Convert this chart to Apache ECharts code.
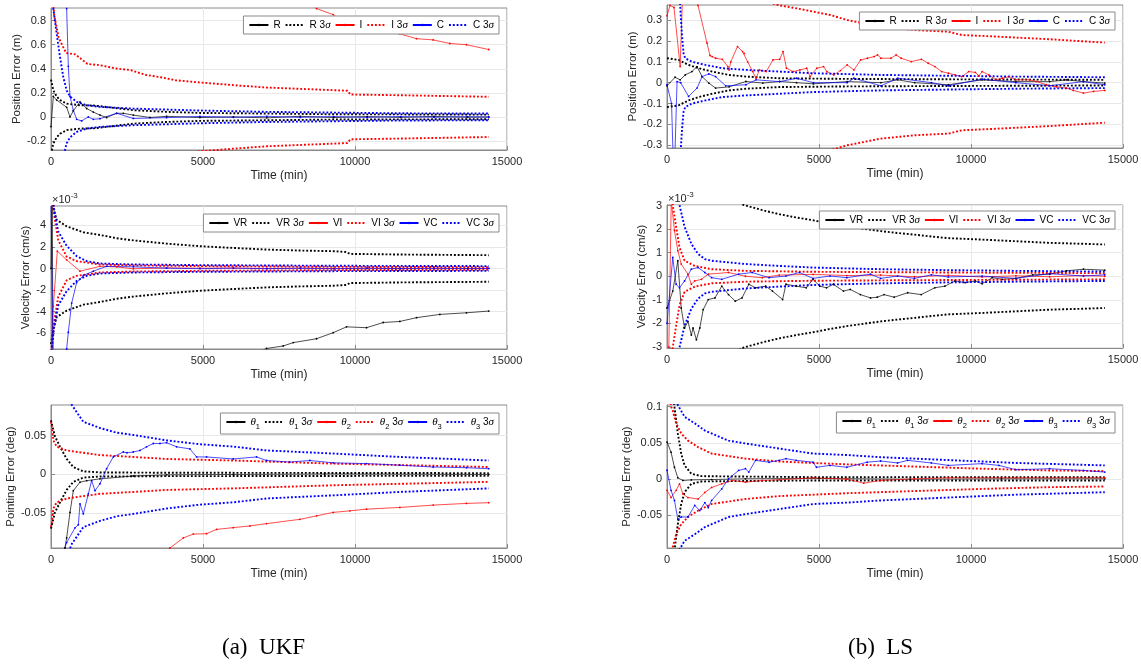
<!DOCTYPE html>
<html><head><meta charset="utf-8">
<script src="https://cdn.jsdelivr.net/npm/echarts@6/dist/echarts.min.js"></script>
<style>html,body{margin:0;padding:0;background:#fff}#c{width:1141px;height:664px}</style>
</head><body><div id="c"></div><script>
// ---------- tick labels ----------
const xTicks = [0, 5000, 10000, 15000];
const ticksUkfPos = [-0.2, 0, 0.2, 0.4, 0.6, 0.8];
const ticksLsPos = [-0.3, -0.2, -0.1, 0, 0.1, 0.2, 0.3];
const ticksUkfVel = [-6, -4, -2, 0, 2, 4];
const ticksLsVel = [-3, -2, -1, 0, 1, 2, 3];
const ticksUkfPt = [-0.05, 0, 0.05];
const ticksLsPt = [-0.05, 0, 0.05, 0.1];

const namesPos = ['R', 'R 3σ', 'I', 'I 3σ', 'C', 'C 3σ'];
const namesVel = ['VR', 'VR 3σ', 'VI', 'VI 3σ', 'VC', 'VC 3σ'];
const namesPt = ['θ1', 'θ1 3σ', 'θ2', 'θ2 3σ', 'θ3', 'θ3 3σ'];

// ---------- (a) UKF position (m) ----------
const ukfPosR = [[0,-0.08],[77,0.17],[186,0.14],[515,0.08],[625,0],[734,0.05],[953,0.125],[1173,0.07],[1392,0.04],[1611,0.015],[1830,-0.005],[2159,0.03],[2378,0.03],[2707,0.015],[3255,-0.005],[3803,0.005],[4899,-0.005],[6000,0.0],[7100,-0.008],[8200,0.005],[9300,-0.005],[10400,0.003],[11500,-0.004],[12600,0.004],[13700,-0.003],[14400,0.0]];
const ukfPosR3s = [[0,0.31],[77,0.22],[186,0.17],[296,0.14],[515,0.11],[953,0.097],[1392,0.095],[1611,0.089],[2707,0.056],[3803,0.042],[4899,0.033],[7091,0.028],[9283,0.022],[14400,0.019]];
const ukfPosI = [[0,6],[4000,2],[7000,1.2],[8735,0.9],[9283,0.85],[9831,0.76],[10379,0.74],[10927,0.70],[11475,0.69],[12023,0.65],[12571,0.64],[13119,0.61],[13667,0.60],[14400,0.56]];
const ukfPosI3s = [[0,1.3],[100,0.85],[250,0.66],[400,0.58],[500,0.53],[800,0.52],[950,0.49],[1200,0.44],[1600,0.43],[2200,0.40],[2600,0.39],[3100,0.35],[3600,0.33],[4100,0.305],[4900,0.286],[6000,0.264],[7100,0.244],[8200,0.233],[9300,0.222],[9750,0.217],[9850,0.186],[11500,0.18],[12600,0.175],[14400,0.167]];
const ukfPosC = [[0,2.5],[400,1.2],[515,0.9],[570,0.42],[625,0.17],[734,0.055],[844,-0.02],[1008,-0.033],[1228,0],[1392,-0.02],[1611,-0.015],[2159,0.03],[2707,-0.013],[3803,-0.006],[4900,0.004],[6000,-0.003],[7100,0.005],[8200,-0.004],[9300,0.003],[10400,-0.004],[11500,0.003],[12600,-0.003],[13700,0.002],[14400,-0.002]];
const ukfPosC3s = [[0,1.6],[77,0.9],[186,0.69],[296,0.5],[405,0.33],[515,0.22],[625,0.17],[844,0.125],[1173,0.097],[1611,0.083],[2707,0.069],[3803,0.061],[4899,0.053],[7091,0.042],[9283,0.036],[11475,0.03],[14400,0.028]];

// ---------- (b) LS position (m) ----------
const lsPosR = [[0,-0.015],[266,0.026],[433,0.0135],[599,0.037],[821,0.053],[988,0.077],[1154,0.029],[1376,-0.002],[1598,-0.026],[2042,-0.02],[2597,0.0056],[3152,-0.002],[3707,0.0056],[4262,0.0],[4817,-0.0056],[5927,0.005],[7037,0.0],[7592,0.0135],[8147,0.0],[9257,-0.01],[10367,0.0135],[11477,0.005],[12587,0.005],[13142,0.0135],[13697,0.005],[14400,-0.002]];
const lsPosR3s = [[0,0.117],[377,0.109],[710,0.085],[1043,0.069],[1487,0.053],[2042,0.037],[2597,0.029],[3707,0.021],[5927,0.018],[9257,0.016],[14400,0.0135]];
const lsPosI = [[0,0.32],[99,0.37],[230,0.36],[433,0.077],[520,0.45],[800,0.6],[1020,0.37],[1315,0.19],[1414,0.13],[1487,0.125],[1598,0.117],[1820,0.112],[2000,0.077],[2043,0.061],[2098,0.1],[2320,0.173],[2486,0.149],[2542,0.14],[2653,0.10],[2820,0.053],[2930,0.021],[3041,0.061],[3263,0.053],[3485,0.109],[3707,0.112],[3818,0.149],[3929,0.069],[4151,0.053],[4373,0.061],[4595,0.069],[4706,0.029],[4928,0.069],[5150,0.077],[5261,0.053],[5483,0.037],[5705,0.058],[5927,0.085],[6149,0.061],[6371,0.109],[6593,0.117],[6815,0.125],[6926,0.133],[7037,0.117],[7370,0.117],[7537,0.133],[7703,0.117],[8036,0.101],[8369,0.112],[8591,0.093],[8813,0.077],[9035,0.053],[9257,0.045],[9479,0.037],[9701,0.029],[9923,0.053],[10145,0.049],[10256,0.033],[10367,0.053],[10589,0.037],[10811,0.0135],[11033,0.021],[11255,0.029],[11477,0.0135],[11921,0.0135],[12143,0.006],[12476,-0.01],[12809,-0.02],[13142,-0.026],[13364,-0.037],[13697,-0.05],[14030,-0.042],[14400,-0.037]];
const lsPosI3s = [[0,1.5],[1000,0.7],[2000,0.5],[3000,0.4],[3707,0.37],[4262,0.356],[4817,0.34],[5372,0.324],[5927,0.30],[6482,0.284],[7037,0.268],[8147,0.252],[9257,0.244],[9701,0.228],[10367,0.224],[11477,0.216],[12587,0.208],[13697,0.198],[14400,0.192]];
const lsPosC = [[0,-0.01],[150,-0.1],[230,-0.5],[330,0.005],[450,0.0],[710,-0.066],[988,-0.026],[1154,0.029],[1376,0.042],[1598,0.029],[1931,-0.015],[2597,-0.01],[2930,0.0135],[3707,0.005],[4262,0.021],[4817,0.0],[5927,0.0],[6149,0.021],[7037,-0.015],[7592,0.021],[8700,0.0],[9257,-0.015],[10367,0.017],[11477,0.0],[12587,-0.015],[13697,0.005],[14400,-0.01]];
const lsPosC3s = [[0,2],[300,0.8],[433,0.37],[488,0.236],[544,0.14],[599,0.117],[821,0.1],[1265,0.085],[1820,0.069],[2597,0.061],[3707,0.053],[4817,0.045],[7037,0.037],[9257,0.033],[11477,0.029],[14400,0.026]];

// ---------- (a) UKF velocity (x1e-3 cm/s) ----------
const ukfVelR = [[0,0],[40,8],[80,-20],[2000,-14],[5000,-10],[7091,-7.4],[7639,-7.17],[7968,-6.86],[8735,-6.5],[9283,-5.94],[9722,-5.4],[10379,-5.48],[10927,-5.0],[11475,-4.9],[12023,-4.55],[12790,-4.25],[13667,-4.1],[14400,-3.94]];
const ukfVelR3s = [[0,7],[77,5.6],[186,4.5],[515,3.9],[1063,3.35],[1611,3.1],[2159,2.8],[2707,2.6],[3803,2.3],[4899,2.06],[5995,1.9],[7091,1.75],[8187,1.66],[9283,1.6],[9722,1.52],[9831,1.35],[11475,1.29],[14400,1.23]];
const ukfVelI = [[0,-8],[77,-3.5],[208,1.6],[515,0.8],[953,-0.25],[1611,0.2],[2159,0.15],[2707,-0.03],[3803,0.05],[4899,0.03],[6000,0.04],[7100,0.0],[8200,0.03],[9300,0.0],[10400,0.02],[11500,0.0],[12600,0.02],[13700,0.0],[14400,0.01]];
const ukfVelI3s = [[0,8],[100,5],[240,2.6],[515,1.1],[844,0.68],[1611,0.37],[2707,0.28],[4899,0.22],[9283,0.15],[14400,0.12]];
const ukfVelC = [[0,6],[100,-15],[400,-9],[515,-7.45],[570,-5.9],[680,-3.2],[844,-1.3],[1063,-0.65],[1392,-0.25],[1830,0.2],[2707,0.15],[3803,0.03],[4899,-0.02],[6000,0.03],[7100,-0.02],[8200,0.02],[9300,-0.02],[10400,0.02],[11500,-0.01],[12600,0.01],[13700,-0.01],[14400,0.0]];
const ukfVelC3s = [[0,8],[100,5.5],[240,3.4],[515,2.1],[844,1.14],[1173,0.68],[1611,0.46],[2707,0.37],[4899,0.31],[9283,0.25],[14400,0.22]];

// ---------- (b) LS velocity (x1e-3 cm/s) ----------
const lsVelR = [[0,-1.35],[190,-0.63],[356,0.66],[467,-1.35],[578,-2.2],[689,-1.92],[800,-2.5],[856,-2.2],[967,-2.7],[1079,-2.2],[1190,-1.42],[1357,-0.99],[1579,-0.92],[1801,-0.42],[2024,-0.78],[2246,-1.06],[2469,-0.92],[2691,-0.34],[2913,-0.49],[3247,-0.42],[3469,-0.63],[3803,-0.99],[3914,-0.34],[4248,-0.42],[4582,-0.49],[4804,-0.13],[5026,-0.42],[5249,-0.49],[5471,-0.34],[5805,-0.63],[6027,-0.56],[6361,-0.78],[6694,-0.92],[6917,-0.89],[7139,-0.78],[7473,-0.89],[7917,-0.7],[8362,-0.78],[8807,-0.49],[9141,-0.42],[9474,-0.2],[9808,-0.27],[10141,-0.2],[10364,-0.32],[10697,-0.06],[11031,-0.13],[11476,-0.09],[12032,0.06],[12588,0.09],[13144,0.23],[13700,0.3],[14400,0.26]];
const lsVelR3s = [[0,8],[1000,4.5],[2000,3.4],[2524,3.03],[3136,2.81],[3692,2.64],[4248,2.5],[4804,2.38],[5360,2.24],[5916,2.12],[6472,2.02],[7028,1.92],[7584,1.84],[8140,1.77],[8696,1.69],[9252,1.62],[9808,1.59],[10364,1.56],[11476,1.49],[12588,1.42],[13700,1.38],[14400,1.35]];
const lsVelI = [[0,-5],[60,-3],[140,3.2],[245,1.95],[356,1.09],[467,0.52],[689,0.09],[800,-0.34],[912,-0.2],[1134,-0.13],[1357,0.09],[2024,0.16],[2580,0.0],[3136,-0.06],[3692,0.05],[4804,0.08],[5916,0.03],[7028,0.05],[8140,-0.02],[9252,0.04],[10364,-0.03],[11476,0.02],[12588,-0.02],[13700,0.03],[14400,0.0]];
const lsVelI3s = [[0,6],[189,3.03],[300,2.1],[411,1.23],[578,0.66],[912,0.44],[1468,0.3],[2580,0.23],[4804,0.19],[9252,0.16],[14400,0.13]];
const lsVelC = [[0,-2],[189,0.8],[300,-0.34],[411,-0.49],[578,-0.2],[800,0.3],[1023,0.37],[1245,0.16],[1468,-0.06],[1801,-0.13],[2357,0.09],[2802,0.16],[3358,-0.06],[3914,0.01],[4359,0.16],[4804,-0.09],[5360,0.01],[5916,-0.06],[6694,0.09],[7028,-0.09],[7584,0.01],[8140,-0.09],[8696,0.06],[9252,-0.03],[10364,0.01],[11476,-0.09],[12588,0.11],[13700,0.01],[14400,0.06]];
const lsVelC3s = [[0,8],[200,5],[411,3.03],[578,2.1],[800,1.38],[1023,0.95],[1245,0.73],[1468,0.66],[2580,0.52],[3692,0.44],[4804,0.37],[7028,0.3],[9252,0.26],[11476,0.23],[14400,0.2]];

// ---------- (a) UKF pointing (deg) ----------
const ukfPt1 = [[0,-0.2],[460,-0.095],[515,-0.082],[625,-0.049],[734,-0.021],[953,-0.01],[1173,-0.008],[1611,-0.0057],[2707,-0.002],[3803,-0.0005],[6000,0.0],[9000,0.0005],[14400,0.0]];
const ukfPt1s = [[0,0.07],[22,0.066],[131,0.049],[296,0.036],[515,0.02],[734,0.0096],[1063,0.004],[1611,0.0026],[3803,0.0022],[14400,0.0017]];
const ukfPt2 = [[0,-0.3],[2000,-0.15],[3913,-0.095],[4351,-0.082],[4680,-0.077],[5118,-0.0765],[5447,-0.071],[5995,-0.0687],[6543,-0.0665],[7091,-0.0635],[8187,-0.058],[8735,-0.0535],[9283,-0.049],[9831,-0.047],[10379,-0.0448],[11475,-0.0426],[12571,-0.0396],[13667,-0.0374],[14400,-0.0365]];
const ukfPt2s = [[0,0.068],[22,0.064],[77,0.044],[186,0.036],[515,0.031],[1611,0.025],[2707,0.0226],[3803,0.02],[5995,0.018],[9283,0.014],[14400,0.0096]];
const ukfPt3 = [[0,-0.3],[405,-0.1],[515,-0.088],[789,-0.069],[900,-0.065],[953,-0.038],[1063,-0.051],[1228,-0.025],[1337,-0.008],[1447,-0.021],[1611,-0.012],[1830,0.0074],[2049,0.0226],[2378,0.029],[2500,0.028],[2707,0.029],[2926,0.031],[3145,0.0357],[3365,0.04],[3584,0.04],[3803,0.041],[4132,0.0357],[4570,0.033],[4789,0.0226],[5118,0.0226],[5995,0.02],[6762,0.0226],[7091,0.018],[7858,0.016],[8516,0.018],[9283,0.015],[10379,0.014],[11475,0.012],[12571,0.0096],[13667,0.0087],[14400,0.0074]];
const ukfPt3s = [[0,0.2],[300,0.13],[680,0.09],[1063,0.068],[1611,0.06],[2159,0.054],[2707,0.051],[3803,0.044],[4899,0.039],[5995,0.036],[7091,0.031],[9283,0.027],[11475,0.0226],[14400,0.018]];

// ---------- (b) LS pointing (deg) ----------
const lsPt1 = [[0,0.051],[133,0.037],[245,0.016],[356,0.0014],[523,-0.0023],[800,-0.0015],[1468,-0.001],[2580,0.0],[5000,0.0005],[8000,-0.0005],[11000,0.0],[14400,0.0]];
const lsPt1s = [[0,0.3],[100,0.15],[245,0.1],[356,0.063],[467,0.035],[578,0.0186],[800,0.007],[1134,0.0037],[2024,0.0033],[4804,0.0023],[14400,0.0023]];
const lsPt2 = [[0,-0.016],[133,-0.026],[300,-0.016],[411,-0.007],[523,-0.021],[689,-0.026],[1023,-0.028],[1245,-0.019],[1468,-0.012],[1801,-0.007],[2135,-0.0023],[2580,-0.0047],[3136,-0.0023],[3692,-0.0014],[4804,0.0014],[5916,-0.0005],[6472,-0.006],[7028,-0.0023],[8140,0.0],[9252,0.0014],[11476,0.0014],[14400,0.0014]];
const lsPt2s = [[0,0.2],[133,0.1],[189,0.095],[300,0.077],[467,0.063],[689,0.053],[1023,0.044],[1468,0.035],[2580,0.028],[3692,0.024],[5916,0.02],[8140,0.017],[10364,0.014],[12588,0.0116],[14400,0.0107]];
const lsPt3 = [[0,0.012],[133,-0.016],[245,-0.03],[356,-0.056],[467,-0.053],[689,-0.053],[912,-0.037],[1079,-0.044],[1245,-0.033],[1357,-0.04],[1468,-0.03],[1801,-0.014],[2024,0.0],[2357,0.0116],[2580,0.014],[2691,0.0093],[2913,0.0256],[3358,0.023],[3692,0.0256],[3914,0.028],[4248,0.0256],[4804,0.023],[4915,0.016],[5360,0.0186],[5916,0.016],[6583,0.023],[7028,0.0247],[7584,0.022],[7917,0.0256],[8696,0.022],[9252,0.0186],[10364,0.021],[10920,0.0186],[11476,0.0126],[12588,0.014],[13700,0.0116],[14400,0.0093]];
const lsPt3s = [[0,0.25],[200,0.12],[356,0.1024],[578,0.086],[912,0.077],[1245,0.067],[1468,0.063],[2024,0.053],[2580,0.049],[3692,0.042],[4804,0.035],[5916,0.033],[7028,0.03],[9252,0.026],[11476,0.022],[14400,0.0186]];

// ---------- layout ----------
const panels = [
  {grid:{left:51,top:8,width:456,height:142}, ymin:-0.275, ymax:0.905, ticks:ticksUkfPos, yname:'Position Error (m)', ngap:20, lg:{right:642,top:16}, names:namesPos, data:[ukfPosR,ukfPosR3s,ukfPosI,ukfPosI3s,ukfPosC,ukfPosC3s]},
  {grid:{left:667,top:5,width:456,height:143}, ymin:-0.313, ymax:0.372, ticks:ticksLsPos, yname:'Position Error (m)', ngap:20, lg:{right:26,top:12}, names:namesPos, data:[lsPosR,lsPosR3s,lsPosI,lsPosI3s,lsPosC,lsPosC3s]},
  {grid:{left:51,top:206,width:456,height:143}, ymin:-7.45, ymax:5.78, ticks:ticksUkfVel, yname:'Velocity Error (cm/s)', ngap:12, lg:{right:642,top:214}, names:namesVel, data:[ukfVelR,ukfVelR3s,ukfVelI,ukfVelI3s,ukfVelC,ukfVelC3s]},
  {grid:{left:667,top:205,width:456,height:143}, ymin:-3.05, ymax:3.03, ticks:ticksLsVel, yname:'Velocity Error (cm/s)', ngap:11, lg:{right:26,top:211}, names:namesVel, data:[lsVelR,lsVelR3s,lsVelI,lsVelI3s,lsVelC,lsVelC3s]},
  {grid:{left:51,top:405,width:456,height:143}, ymin:-0.095, ymax:0.0897, ticks:ticksUkfPt, yname:'Pointing Error (deg)', ngap:25, lg:{right:642,top:413}, names:namesPt, data:[ukfPt1,ukfPt1s,ukfPt2,ukfPt2s,ukfPt3,ukfPt3s]},
  {grid:{left:667,top:405,width:456,height:143}, ymin:-0.096, ymax:0.1024, ticks:ticksLsPt, yname:'Pointing Error (deg)', ngap:27, lg:{right:26,top:412}, names:namesPt, data:[lsPt1,lsPt1s,lsPt2,lsPt2s,lsPt3,lsPt3s]}
];

const COLORS = ['#000000', '#ff0000', '#0000ff'];
const AX = '#8a8a8a', TXT = '#262626', FONT = '"Liberation Sans", Arial, sans-serif';

function legendFmt(name) {
  let s = name.replace(/θ(\d)/, '{i|θ}{s|$1}');
  s = s.replace(/σ/g, '{i|σ}');
  return s;
}

const grids = [], xAxes = [], yAxes = [], series = [], legends = [];
panels.forEach((p, i) => {
  grids.push(Object.assign({show:true, borderColor:AX, borderWidth:1, backgroundColor:'#fff', outerBoundsMode:'none', containLabel:false}, p.grid));
  xAxes.push({
    type:'value', gridIndex:i, min:0, max:15000, interval:5000,
    name:'Time (min)', nameLocation:'middle', nameGap:20,
    nameTextStyle:{fontSize:12, color:TXT, fontFamily:FONT},
    axisLine:{show:true, onZero:false, lineStyle:{color:AX, width:1}},
    axisTick:{show:true, inside:true, length:4, lineStyle:{color:AX}},
    axisLabel:{fontSize:11, color:TXT, fontFamily:FONT, margin:6, customValues:xTicks,
      formatter: v => String(v)},
    splitLine:{show:true, lineStyle:{color:'#e8e8e8', width:1}}
  });
  yAxes.push({
    type:'value', gridIndex:i, min:p.ymin, max:p.ymax,
    name:p.yname, nameLocation:'middle', nameGap:p.ngap,
    nameTextStyle:{fontSize:11.5, color:TXT, fontFamily:FONT},
    axisLine:{show:true, onZero:false, lineStyle:{color:AX, width:1}},
    axisTick:{show:true, inside:true, length:4, lineStyle:{color:AX}, customValues:p.ticks},
    axisLabel:{fontSize:11, color:TXT, fontFamily:FONT, margin:5, customValues:p.ticks,
      formatter: v => String(Math.round(v * 1000) / 1000)},
    splitLine:{show:true, lineStyle:{color:'#e8e8e8', width:1}}
  });
  for (let k = 0; k < 3; k++) {
    const c = COLORS[k];
    series.push({
      type:'line', name:p.names[2*k], xAxisIndex:i, yAxisIndex:i, data:p.data[2*k],
      symbol:'circle', symbolSize:1.8, showSymbol:true, clip:true, silent:true,
      itemStyle:{color:c}, lineStyle:{color:c, width:0.7}, z:2
    });
    const b = p.data[2*k+1];
    [b, b.map(d => [d[0], -d[1]])].forEach(arr => {
      series.push({
        type:'line', name:p.names[2*k+1], xAxisIndex:i, yAxisIndex:i, data:arr,
        symbol:'none', clip:true, silent:true,
        itemStyle:{color:c}, lineStyle:{color:c, width:1.9, type:'dotted'}, z:2
      });
    });
  }
  legends.push({
    data:p.names.map((n, j) => j % 2
      ? {name:n, itemStyle:{opacity:0}, lineStyle:{type:'dotted', width:1.9, color:COLORS[(j-1)/2]}}
      : {name:n}),
    right:p.lg.right, top:p.lg.top, orient:'horizontal',
    itemWidth:19, itemHeight:3, itemGap:4, padding:[3,5,3,5],
    borderColor:'#8a8a8a', borderWidth:1, backgroundColor:'#fff', selectedMode:false,
    formatter:legendFmt,
    textStyle:{fontSize:10, color:'#000', fontFamily:FONT, lineHeight:12,
      rich:{
        i:{fontStyle:'italic', fontFamily:'"Liberation Serif", serif', fontSize:11, color:'#000'},
        s:{fontSize:7.5, fontFamily:FONT, color:'#000', verticalAlign:'bottom', lineHeight:7, padding:[0,0,-3,0]}
      }}
  });
});

const sup = {a:{fontSize:11, fontFamily:FONT, fill:TXT}, b:{fontSize:8, fontFamily:FONT, fill:TXT, padding:[0,0,7,0]}};
const option = {
  animation:false,
  backgroundColor:'#fff',
  grid:grids, xAxis:xAxes, yAxis:yAxes, series:series, legend:legends,
  graphic:[
    {type:'text', left:52, top:192, style:{text:'{a|×10}{b|-3}', rich:sup}},
    {type:'text', left:668, top:191, style:{text:'{a|×10}{b|-3}', rich:sup}},
    {type:'text', left:222, top:636, style:{text:'(a)  UKF', font:'23px "Liberation Serif", serif', fill:'#000'}},
    {type:'text', left:848, top:636, style:{text:'(b)  LS', font:'23px "Liberation Serif", serif', fill:'#000'}}
  ]
};
const chart = echarts.init(document.getElementById('c'), null, {renderer:'canvas'});
chart.setOption(option);
</script></body></html>
